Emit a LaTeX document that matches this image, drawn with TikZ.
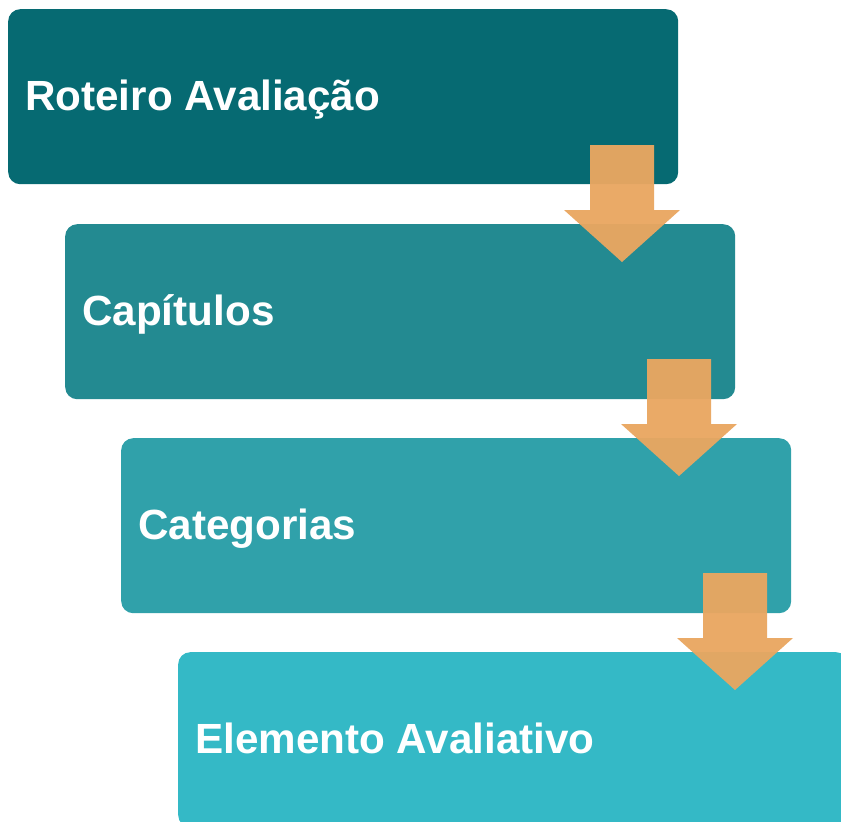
\documentclass[tikz,border=0pt]{standalone}
\usepackage{fontspec}
\setmainfont{Liberation Sans}
\definecolor{c1}{HTML}{066A72}
\definecolor{c2}{HTML}{238A91}
\definecolor{c3}{HTML}{30A1AA}
\definecolor{c4}{HTML}{34B9C6}
\definecolor{arr}{HTML}{E9A761}
\tikzset{
  stepbox/.style={rounded corners=12pt, minimum width=670pt, minimum height=175pt, inner sep=0pt},
  lbl/.style={anchor=base west, text=white, font=\fontsize{42.2}{46}\selectfont\bfseries, inner sep=0pt},
  downarrow/.style={fill=arr, fill opacity=0.96, draw=none}
}
\newcommand{\downarr}[2]{%
  \fill[downarrow] (#1,#2) ++(-32,0) -- ++(64,0) -- ++(0,65) -- ++(26,0) -- ++(-58,52) -- ++(-58,-52) -- ++(26,0) -- cycle;}
\begin{document}
\begin{tikzpicture}[x=1pt,y=-1pt]
\useasboundingbox (0,0) rectangle (841,822);
\clip (0,0) rectangle (841,822);
\node[stepbox, anchor=north west, fill=c1] (b1) at (8,9) {};
\node[stepbox, anchor=north west, fill=c2] (b2) at (65,224) {};
\node[stepbox, anchor=north west, fill=c3] (b3) at (121,438) {};
\node[stepbox, anchor=north west, fill=c4] (b4) at (178,652) {};
\node[lbl] (t1) at (25,110) {Roteiro Avaliação};
\node[lbl] (t2) at (82,325) {Capítulos};
\node[lbl] (t3) at (138,539) {Categorias};
\node[lbl] (t4) at (195,753) {Elemento Avaliativo};
\downarr{622}{145}
\downarr{679}{359}
\downarr{735}{573}
\end{tikzpicture}
\end{document}
